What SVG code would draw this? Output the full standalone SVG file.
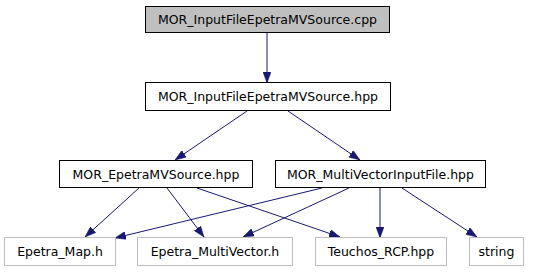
<svg xmlns="http://www.w3.org/2000/svg" width="533" height="272" viewBox="0 0 533 272">
  <style>
    .box { fill: #ffffff; stroke: #000000; stroke-width: 1; }
    .root { fill: #bfbfbf; }
    .ext { stroke: #bfbfbf; }
    .lbl { font-family: "DejaVu Sans", sans-serif; font-size: 12.5px; fill: #000000; text-anchor: middle; }
    .edge { fill: none; stroke: #191970; stroke-width: 1; marker-end: url(#arrow); }
  </style>
  <defs>
    <marker id="arrow" viewBox="0 0 11 8" refX="11" refY="4" markerWidth="11" markerHeight="8" markerUnits="userSpaceOnUse" orient="auto">
      <path d="M0,0 L11,4 L0,8 z" fill="#191970" stroke="#191970" stroke-width="0.5"/>
    </marker>
  </defs>

  <g id="edges">
    <path class="edge" d="M267,33 L267,83"/>
    <path class="edge" d="M247,111 L175,160"/>
    <path class="edge" d="M288,111 L360,160"/>
    <path class="edge" d="M139,188 L85,237"/>
    <path class="edge" d="M167,188 L204,237"/>
    <path class="edge" d="M197,188 L340,237"/>
    <path class="edge" d="M322,188 L115,238"/>
    <path class="edge" d="M349,188 L243,237"/>
    <path class="edge" d="M380,188 L380,238"/>
    <path class="edge" d="M402,188 L477,237"/>
  </g>

  <g id="node-cpp">
    <rect class="box root" x="145.5" y="6.5" width="244" height="26"/>
    <text class="lbl" x="267.5" y="24">MOR_InputFileEpetraMVSource.cpp</text>
  </g>
  <g id="node-hpp">
    <rect class="box" x="145.5" y="82.5" width="245" height="28"/>
    <text class="lbl" x="268" y="101">MOR_InputFileEpetraMVSource.hpp</text>
  </g>
  <g id="node-epetramvsource">
    <rect class="box" x="59.5" y="160.5" width="193" height="27"/>
    <text class="lbl" x="156" y="178.5">MOR_EpetraMVSource.hpp</text>
  </g>
  <g id="node-multivectorinputfile">
    <rect class="box" x="275.5" y="160.5" width="210" height="27"/>
    <text class="lbl" x="380.5" y="178.5">MOR_MultiVectorInputFile.hpp</text>
  </g>
  <g id="node-epetra-map">
    <rect class="box ext" x="4.5" y="237.5" width="111" height="28"/>
    <text class="lbl" x="60" y="256">Epetra_Map.h</text>
  </g>
  <g id="node-epetra-multivector">
    <rect class="box ext" x="137.5" y="237.5" width="155" height="28"/>
    <text class="lbl" x="215" y="256">Epetra_MultiVector.h</text>
  </g>
  <g id="node-teuchos-rcp">
    <rect class="box ext" x="315.5" y="237.5" width="131" height="28"/>
    <text class="lbl" x="381" y="256">Teuchos_RCP.hpp</text>
  </g>
  <g id="node-string">
    <rect class="box ext" x="469.5" y="237.5" width="54" height="28"/>
    <text class="lbl" x="496.5" y="256">string</text>
  </g>
</svg>
